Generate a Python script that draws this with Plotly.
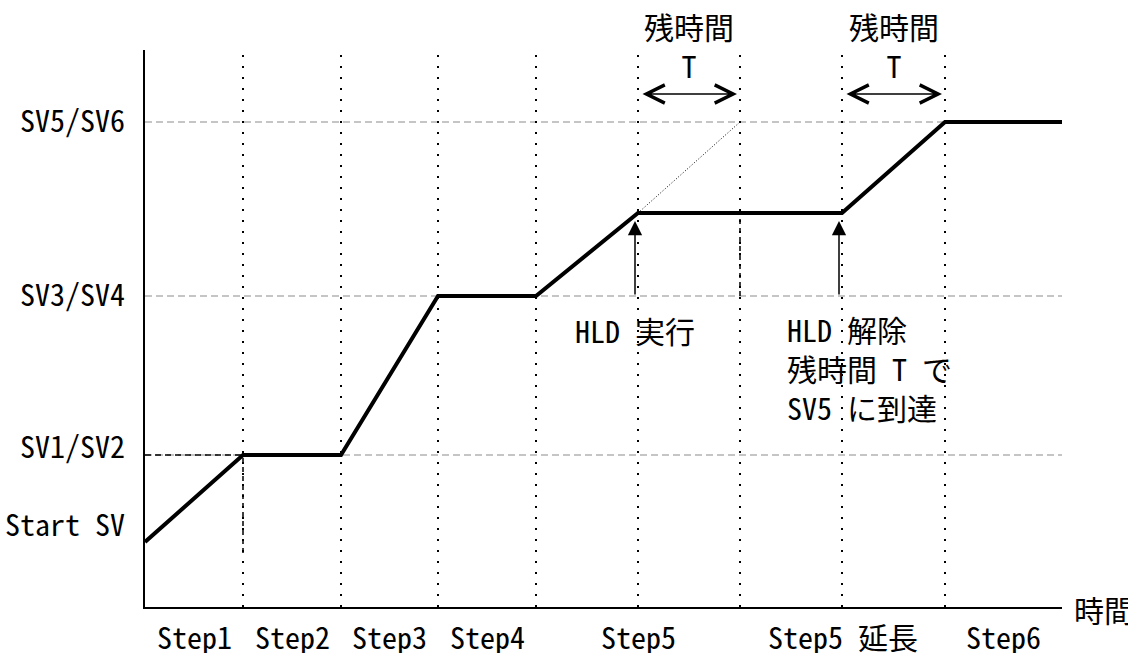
import plotly.graph_objects as go

# ---- data (time units / SV units) ----
step_bounds = [0.98, 1.96, 2.93, 3.91, 4.93, 5.95, 6.97, 8.0]   # vertical dotted lines
t_end = 9.17
step_labels = ["Step1", "Step2", "Step3", "Step4", "Step5", "Step5 延長", "Step6"]
step_label_t = [0.49, 1.47, 2.445, 3.42, 4.93, 6.975, 8.585]

level_names = ["SV5/SV6", "SV3/SV4", "SV1/SV2", "Start SV"]
level_values = [485, 311, 152, 65]
level_label_shift = [3, 3, 10, 19]

profile_t = [0, 0.98, 1.96, 2.93, 3.91, 4.93, 6.97, 8.0, 9.17]
profile_sv = [65, 152, 152, 311, 311, 394, 394, 485, 485]

planned_t = [4.93, 5.95]
planned_sv = [394, 485]

hold_sv = 394
hld_marks_t = [4.90, 6.94]
remain_spans = [(4.93, 5.95), (6.97, 8.0)]
span_arrow_sv = 513
y_top = 557
dotted_top = 554

FONT = "Noto Sans Mono CJK JP, Noto Sans CJK JP, sans-serif"
FS = 30

fig = go.Figure()

# gray dashed reference levels
for v in level_values[:3]:
    fig.add_trace(go.Scatter(x=[0, t_end], y=[v, v], mode="lines",
                             line=dict(color="#8c8c8c", width=1.2, dash="7px,4px"),
                             hoverinfo="skip"))
# black dashed part of SV1/SV2 line
fig.add_trace(go.Scatter(x=[0, profile_t[1]], y=[level_values[2], level_values[2]], mode="lines",
                         line=dict(color="black", width=1.5, dash="6px,4px"), hoverinfo="skip"))

# vertical dotted step boundaries
for b in step_bounds:
    fig.add_trace(go.Scatter(x=[b, b], y=[0, dotted_top], mode="lines",
                             line=dict(color="black", width=2, dash="2px,9px"),
                             hoverinfo="skip"))
# dashed segments on boundaries
fig.add_trace(go.Scatter(x=[step_bounds[0], step_bounds[0]], y=[54, level_values[2]], mode="lines",
                         line=dict(color="black", width=1.5, dash="5px,4px"), hoverinfo="skip"))
fig.add_trace(go.Scatter(x=[step_bounds[5], step_bounds[5]], y=[level_values[1], hold_sv], mode="lines",
                         line=dict(color="black", width=1.5, dash="5px,4px"), hoverinfo="skip"))

# planned (without hold) dotted line
fig.add_trace(go.Scatter(x=planned_t, y=planned_sv, mode="lines",
                         line=dict(color="black", width=1, dash="1px,2px"), hoverinfo="skip"))

# main profile
fig.add_trace(go.Scatter(x=profile_t, y=profile_sv, mode="lines",
                         line=dict(color="black", width=4), hoverinfo="skip"))

ann = []
# level labels
for name, v, sh in zip(level_names, level_values, level_label_shift):
    ann.append(dict(x=0, xref="paper", y=v, yref="y", text=name, showarrow=False,
                    xanchor="right", yanchor="middle", xshift=-18, yshift=sh))
# step labels
for lab, t in zip(step_labels, step_label_t):
    ann.append(dict(x=t, xref="x", y=0, yref="paper", text=lab, showarrow=False,
                    xanchor="center", yanchor="top", yshift=-5))
# axis title
ann.append(dict(x=1, xref="paper", y=0, yref="paper", text="時間", showarrow=False,
                xanchor="left", yanchor="middle", xshift=10, yshift=-2))

# remaining time spans
for a, b in remain_spans:
    mid = (a + b) / 2
    ann.append(dict(x=b, y=span_arrow_sv, ax=a, ay=span_arrow_sv, xref="x", yref="y",
                    axref="x", ayref="y", text="", showarrow=True, arrowside="end+start",
                    arrowhead=5, startarrowhead=5, arrowwidth=1.5, arrowsize=2.4,
                    startarrowsize=2.4, standoff=3, startstandoff=3, arrowcolor="black"))
    ann.append(dict(x=mid, xref="x", y=1, yref="paper", text="残時間<br>T", showarrow=False,
                    xanchor="center", yanchor="middle", yshift=5))

# HLD arrows
for t in hld_marks_t:
    ann.append(dict(x=t, y=hold_sv - 8, ax=t, ay=level_values[1], xref="x", yref="y",
                    axref="x", ayref="y", text="", showarrow=True, arrowhead=2,
                    arrowwidth=1.5, arrowsize=1.9, arrowcolor="black", standoff=0))

ann.append(dict(x=hld_marks_t[0], y=277, xref="x", yref="y", text="HLD 実行", showarrow=False,
                xanchor="center", yanchor="middle"))
ann.append(dict(x=6.40, y=239, xref="x", yref="y", text="HLD 解除<br>残時間 T で<br>SV5 に到達",
                showarrow=False, xanchor="left", yanchor="middle", align="left"))

fig.update_layout(
    width=1128, height=653,
    margin=dict(l=145, r=66, t=50, b=46),
    paper_bgcolor="white", plot_bgcolor="white",
    showlegend=False,
    font=dict(family=FONT, size=FS, color="black"),
    annotations=ann,
    xaxis=dict(range=[0, t_end], showgrid=False, zeroline=False, showticklabels=False,
               showline=True, linecolor="black", linewidth=2, ticks=""),
    yaxis=dict(range=[0, y_top], showgrid=False, zeroline=False, showticklabels=False,
               showline=True, linecolor="black", linewidth=2, ticks=""),
)

fig.write_html("out.html", config={"displayModeBar": False},
               post_script="document.body.style.margin='0';document.body.style.overflow='hidden';")
